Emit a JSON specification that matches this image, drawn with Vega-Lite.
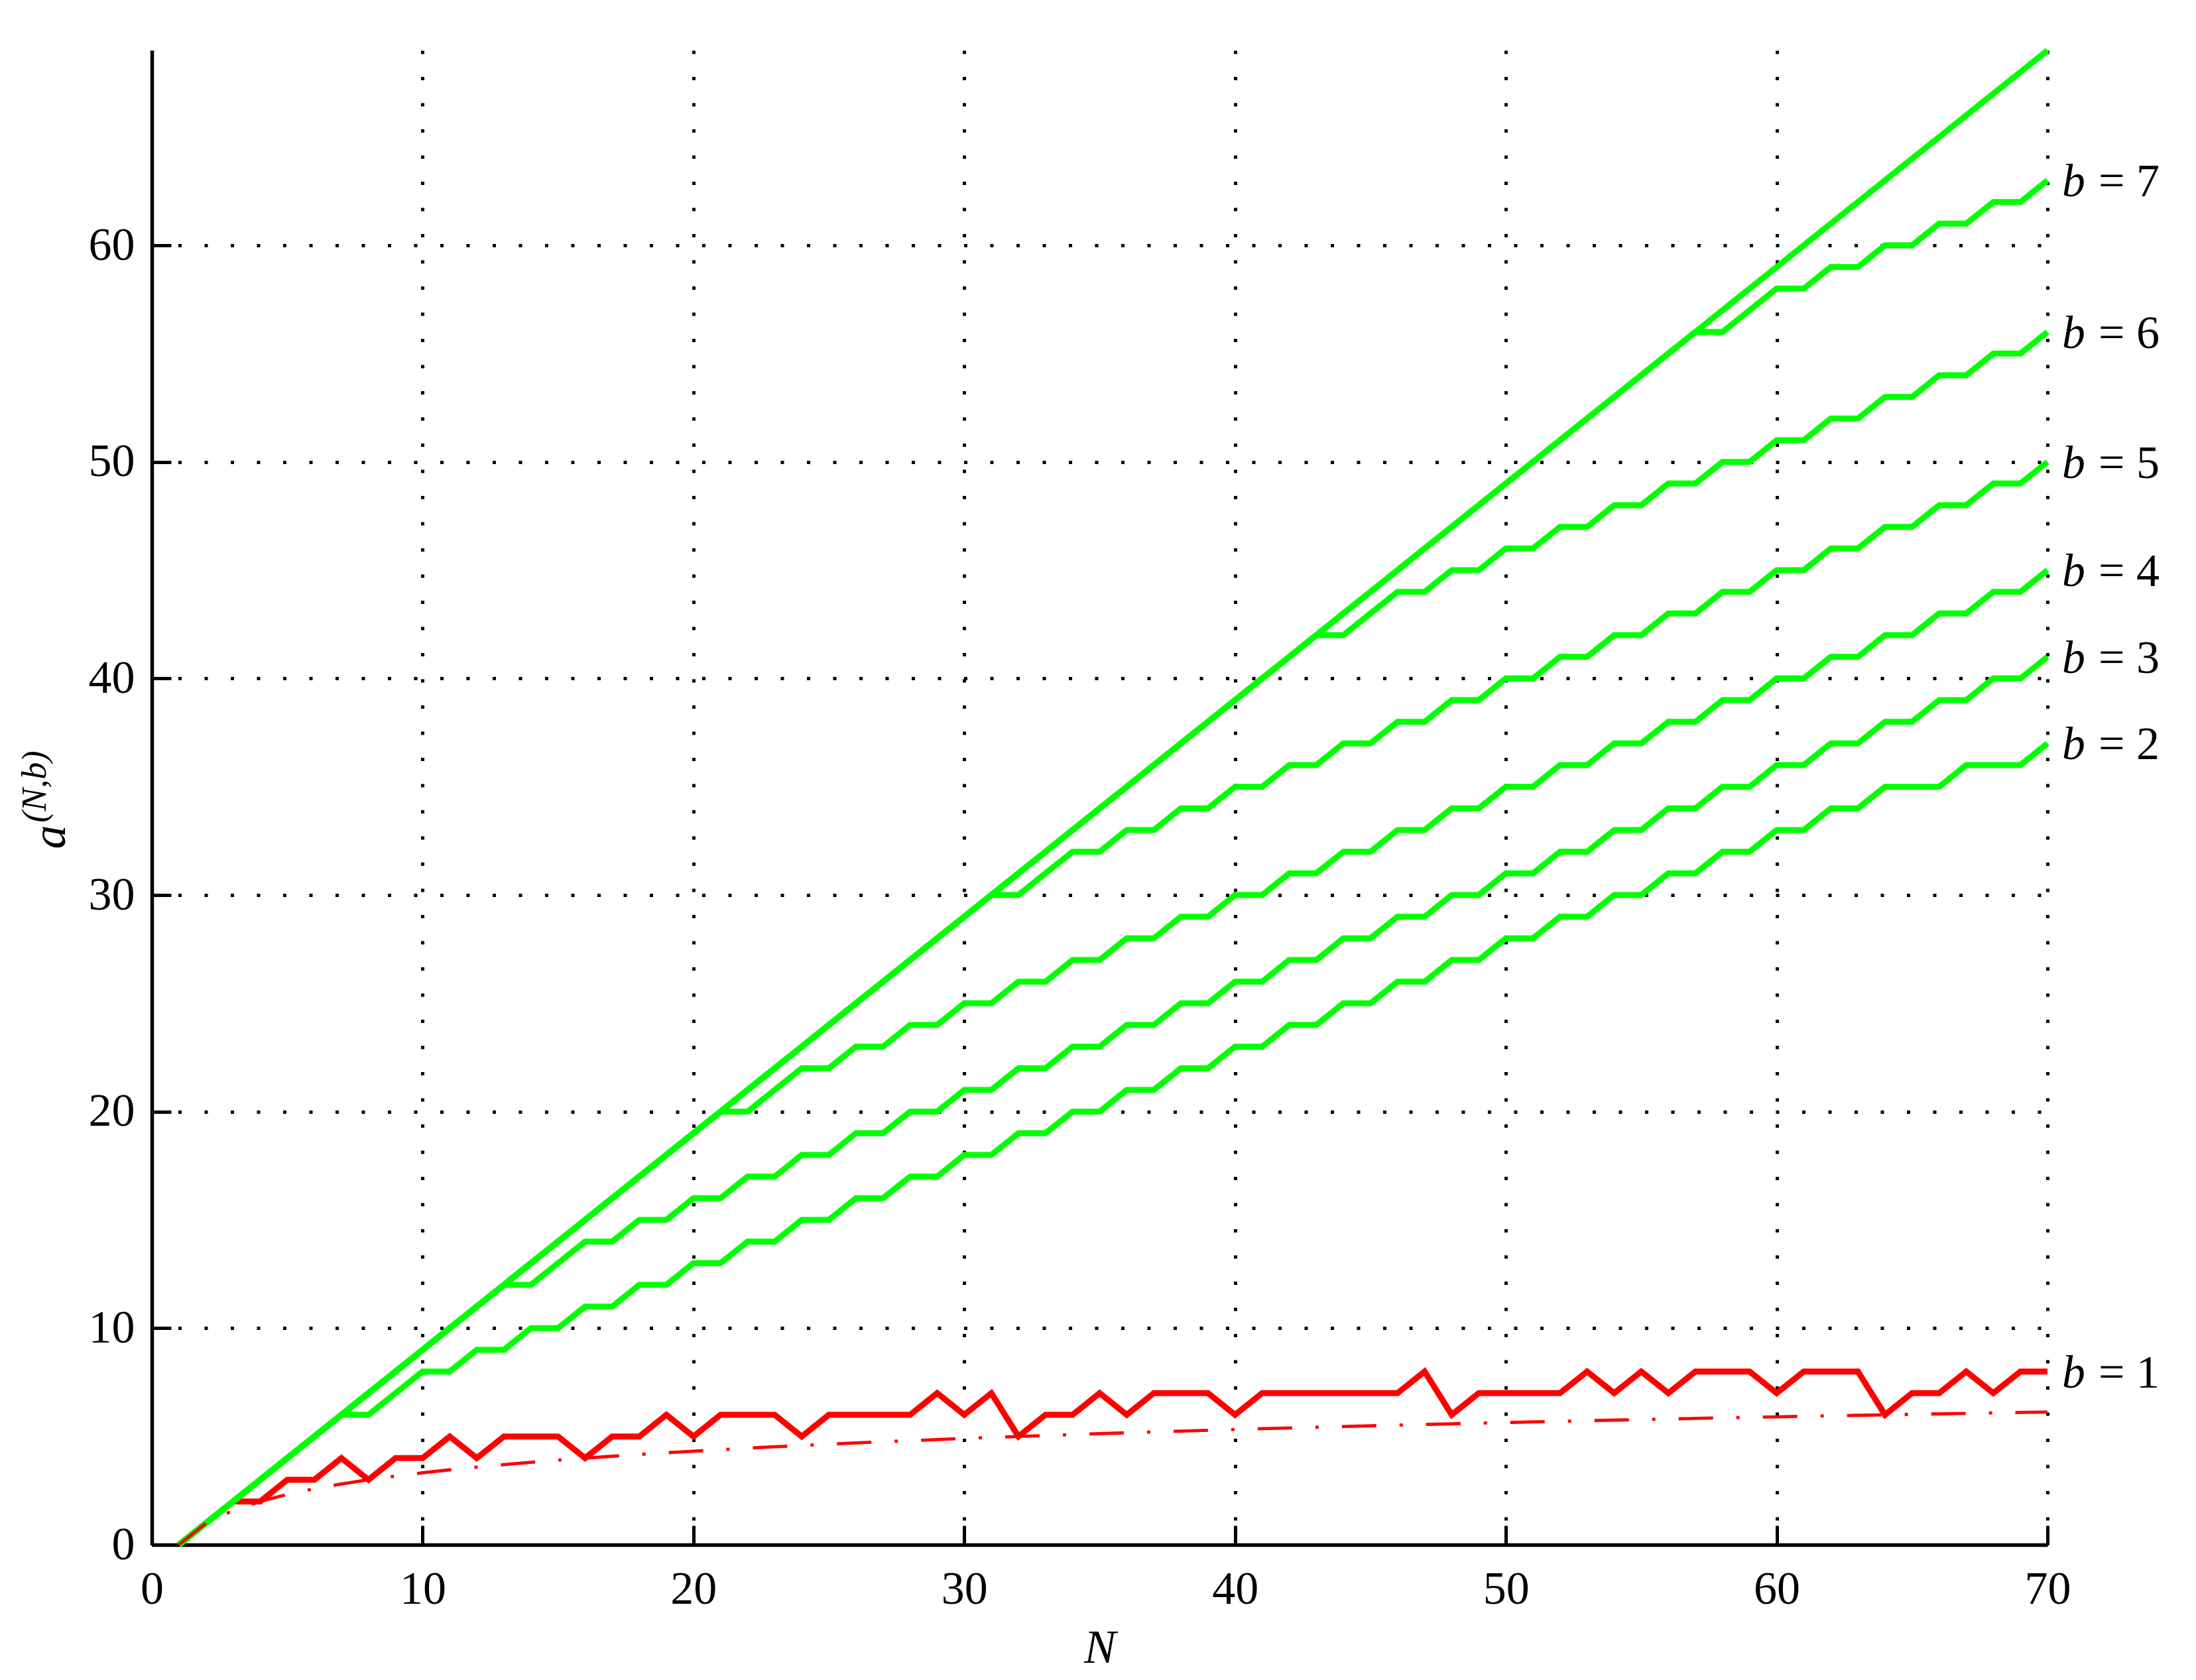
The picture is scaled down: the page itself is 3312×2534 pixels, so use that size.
{
  "$schema": "https://vega.github.io/schema/vega-lite/v6.json",
  "width": 2859,
  "height": 2254,
  "autosize": {"type": "none"},
  "padding": {"left": 229, "top": 76, "right": 224, "bottom": 204},
  "background": "white",
  "config": {"view": {"stroke": null}},
  "resolve": {"axis": {"x": "independent", "y": "independent"}},
  "data": {
    "values": [
      {"N": 1, "t": 0, "b7": 0, "b6": 0, "b5": 0, "b4": 0, "b3": 0, "b2": 0, "b1": 0, "lg": 0},
      {"N": 2, "t": 1, "b7": 1, "b6": 1, "b5": 1, "b4": 1, "b3": 1, "b2": 1, "b1": 1, "lg": 1},
      {"N": 3, "t": 2, "b7": 2, "b6": 2, "b5": 2, "b4": 2, "b3": 2, "b2": 2, "b1": 2, "lg": 1.585},
      {"N": 4, "t": 3, "b7": 3, "b6": 3, "b5": 3, "b4": 3, "b3": 3, "b2": 3, "b1": 2, "lg": 2},
      {"N": 5, "t": 4, "b7": 4, "b6": 4, "b5": 4, "b4": 4, "b3": 4, "b2": 4, "b1": 3, "lg": 2.322},
      {"N": 6, "t": 5, "b7": 5, "b6": 5, "b5": 5, "b4": 5, "b3": 5, "b2": 5, "b1": 3, "lg": 2.585},
      {"N": 7, "t": 6, "b7": 6, "b6": 6, "b5": 6, "b4": 6, "b3": 6, "b2": 6, "b1": 4, "lg": 2.807},
      {"N": 8, "t": 7, "b7": 7, "b6": 7, "b5": 7, "b4": 7, "b3": 7, "b2": 6, "b1": 3, "lg": 3},
      {"N": 9, "t": 8, "b7": 8, "b6": 8, "b5": 8, "b4": 8, "b3": 8, "b2": 7, "b1": 4, "lg": 3.17},
      {"N": 10, "t": 9, "b7": 9, "b6": 9, "b5": 9, "b4": 9, "b3": 9, "b2": 8, "b1": 4, "lg": 3.322},
      {"N": 11, "t": 10, "b7": 10, "b6": 10, "b5": 10, "b4": 10, "b3": 10, "b2": 8, "b1": 5, "lg": 3.459},
      {"N": 12, "t": 11, "b7": 11, "b6": 11, "b5": 11, "b4": 11, "b3": 11, "b2": 9, "b1": 4, "lg": 3.585},
      {"N": 13, "t": 12, "b7": 12, "b6": 12, "b5": 12, "b4": 12, "b3": 12, "b2": 9, "b1": 5, "lg": 3.7},
      {"N": 14, "t": 13, "b7": 13, "b6": 13, "b5": 13, "b4": 13, "b3": 12, "b2": 10, "b1": 5, "lg": 3.807},
      {"N": 15, "t": 14, "b7": 14, "b6": 14, "b5": 14, "b4": 14, "b3": 13, "b2": 10, "b1": 5, "lg": 3.907},
      {"N": 16, "t": 15, "b7": 15, "b6": 15, "b5": 15, "b4": 15, "b3": 14, "b2": 11, "b1": 4, "lg": 4},
      {"N": 17, "t": 16, "b7": 16, "b6": 16, "b5": 16, "b4": 16, "b3": 14, "b2": 11, "b1": 5, "lg": 4.087},
      {"N": 18, "t": 17, "b7": 17, "b6": 17, "b5": 17, "b4": 17, "b3": 15, "b2": 12, "b1": 5, "lg": 4.17},
      {"N": 19, "t": 18, "b7": 18, "b6": 18, "b5": 18, "b4": 18, "b3": 15, "b2": 12, "b1": 6, "lg": 4.248},
      {"N": 20, "t": 19, "b7": 19, "b6": 19, "b5": 19, "b4": 19, "b3": 16, "b2": 13, "b1": 5, "lg": 4.322},
      {"N": 21, "t": 20, "b7": 20, "b6": 20, "b5": 20, "b4": 20, "b3": 16, "b2": 13, "b1": 6, "lg": 4.392},
      {"N": 22, "t": 21, "b7": 21, "b6": 21, "b5": 21, "b4": 20, "b3": 17, "b2": 14, "b1": 6, "lg": 4.459},
      {"N": 23, "t": 22, "b7": 22, "b6": 22, "b5": 22, "b4": 21, "b3": 17, "b2": 14, "b1": 6, "lg": 4.524},
      {"N": 24, "t": 23, "b7": 23, "b6": 23, "b5": 23, "b4": 22, "b3": 18, "b2": 15, "b1": 5, "lg": 4.585},
      {"N": 25, "t": 24, "b7": 24, "b6": 24, "b5": 24, "b4": 22, "b3": 18, "b2": 15, "b1": 6, "lg": 4.644},
      {"N": 26, "t": 25, "b7": 25, "b6": 25, "b5": 25, "b4": 23, "b3": 19, "b2": 16, "b1": 6, "lg": 4.7},
      {"N": 27, "t": 26, "b7": 26, "b6": 26, "b5": 26, "b4": 23, "b3": 19, "b2": 16, "b1": 6, "lg": 4.755},
      {"N": 28, "t": 27, "b7": 27, "b6": 27, "b5": 27, "b4": 24, "b3": 20, "b2": 17, "b1": 6, "lg": 4.807},
      {"N": 29, "t": 28, "b7": 28, "b6": 28, "b5": 28, "b4": 24, "b3": 20, "b2": 17, "b1": 7, "lg": 4.858},
      {"N": 30, "t": 29, "b7": 29, "b6": 29, "b5": 29, "b4": 25, "b3": 21, "b2": 18, "b1": 6, "lg": 4.907},
      {"N": 31, "t": 30, "b7": 30, "b6": 30, "b5": 30, "b4": 25, "b3": 21, "b2": 18, "b1": 7, "lg": 4.954},
      {"N": 32, "t": 31, "b7": 31, "b6": 31, "b5": 30, "b4": 26, "b3": 22, "b2": 19, "b1": 5, "lg": 5},
      {"N": 33, "t": 32, "b7": 32, "b6": 32, "b5": 31, "b4": 26, "b3": 22, "b2": 19, "b1": 6, "lg": 5.044},
      {"N": 34, "t": 33, "b7": 33, "b6": 33, "b5": 32, "b4": 27, "b3": 23, "b2": 20, "b1": 6, "lg": 5.087},
      {"N": 35, "t": 34, "b7": 34, "b6": 34, "b5": 32, "b4": 27, "b3": 23, "b2": 20, "b1": 7, "lg": 5.129},
      {"N": 36, "t": 35, "b7": 35, "b6": 35, "b5": 33, "b4": 28, "b3": 24, "b2": 21, "b1": 6, "lg": 5.17},
      {"N": 37, "t": 36, "b7": 36, "b6": 36, "b5": 33, "b4": 28, "b3": 24, "b2": 21, "b1": 7, "lg": 5.209},
      {"N": 38, "t": 37, "b7": 37, "b6": 37, "b5": 34, "b4": 29, "b3": 25, "b2": 22, "b1": 7, "lg": 5.248},
      {"N": 39, "t": 38, "b7": 38, "b6": 38, "b5": 34, "b4": 29, "b3": 25, "b2": 22, "b1": 7, "lg": 5.285},
      {"N": 40, "t": 39, "b7": 39, "b6": 39, "b5": 35, "b4": 30, "b3": 26, "b2": 23, "b1": 6, "lg": 5.322},
      {"N": 41, "t": 40, "b7": 40, "b6": 40, "b5": 35, "b4": 30, "b3": 26, "b2": 23, "b1": 7, "lg": 5.358},
      {"N": 42, "t": 41, "b7": 41, "b6": 41, "b5": 36, "b4": 31, "b3": 27, "b2": 24, "b1": 7, "lg": 5.392},
      {"N": 43, "t": 42, "b7": 42, "b6": 42, "b5": 36, "b4": 31, "b3": 27, "b2": 24, "b1": 7, "lg": 5.426},
      {"N": 44, "t": 43, "b7": 43, "b6": 42, "b5": 37, "b4": 32, "b3": 28, "b2": 25, "b1": 7, "lg": 5.459},
      {"N": 45, "t": 44, "b7": 44, "b6": 43, "b5": 37, "b4": 32, "b3": 28, "b2": 25, "b1": 7, "lg": 5.492},
      {"N": 46, "t": 45, "b7": 45, "b6": 44, "b5": 38, "b4": 33, "b3": 29, "b2": 26, "b1": 7, "lg": 5.524},
      {"N": 47, "t": 46, "b7": 46, "b6": 44, "b5": 38, "b4": 33, "b3": 29, "b2": 26, "b1": 8, "lg": 5.555},
      {"N": 48, "t": 47, "b7": 47, "b6": 45, "b5": 39, "b4": 34, "b3": 30, "b2": 27, "b1": 6, "lg": 5.585},
      {"N": 49, "t": 48, "b7": 48, "b6": 45, "b5": 39, "b4": 34, "b3": 30, "b2": 27, "b1": 7, "lg": 5.615},
      {"N": 50, "t": 49, "b7": 49, "b6": 46, "b5": 40, "b4": 35, "b3": 31, "b2": 28, "b1": 7, "lg": 5.644},
      {"N": 51, "t": 50, "b7": 50, "b6": 46, "b5": 40, "b4": 35, "b3": 31, "b2": 28, "b1": 7, "lg": 5.672},
      {"N": 52, "t": 51, "b7": 51, "b6": 47, "b5": 41, "b4": 36, "b3": 32, "b2": 29, "b1": 7, "lg": 5.7},
      {"N": 53, "t": 52, "b7": 52, "b6": 47, "b5": 41, "b4": 36, "b3": 32, "b2": 29, "b1": 8, "lg": 5.728},
      {"N": 54, "t": 53, "b7": 53, "b6": 48, "b5": 42, "b4": 37, "b3": 33, "b2": 30, "b1": 7, "lg": 5.755},
      {"N": 55, "t": 54, "b7": 54, "b6": 48, "b5": 42, "b4": 37, "b3": 33, "b2": 30, "b1": 8, "lg": 5.781},
      {"N": 56, "t": 55, "b7": 55, "b6": 49, "b5": 43, "b4": 38, "b3": 34, "b2": 31, "b1": 7, "lg": 5.807},
      {"N": 57, "t": 56, "b7": 56, "b6": 49, "b5": 43, "b4": 38, "b3": 34, "b2": 31, "b1": 8, "lg": 5.833},
      {"N": 58, "t": 57, "b7": 56, "b6": 50, "b5": 44, "b4": 39, "b3": 35, "b2": 32, "b1": 8, "lg": 5.858},
      {"N": 59, "t": 58, "b7": 57, "b6": 50, "b5": 44, "b4": 39, "b3": 35, "b2": 32, "b1": 8, "lg": 5.883},
      {"N": 60, "t": 59, "b7": 58, "b6": 51, "b5": 45, "b4": 40, "b3": 36, "b2": 33, "b1": 7, "lg": 5.907},
      {"N": 61, "t": 60, "b7": 58, "b6": 51, "b5": 45, "b4": 40, "b3": 36, "b2": 33, "b1": 8, "lg": 5.931},
      {"N": 62, "t": 61, "b7": 59, "b6": 52, "b5": 46, "b4": 41, "b3": 37, "b2": 34, "b1": 8, "lg": 5.954},
      {"N": 63, "t": 62, "b7": 59, "b6": 52, "b5": 46, "b4": 41, "b3": 37, "b2": 34, "b1": 8, "lg": 5.977},
      {"N": 64, "t": 63, "b7": 60, "b6": 53, "b5": 47, "b4": 42, "b3": 38, "b2": 35, "b1": 6, "lg": 6},
      {"N": 65, "t": 64, "b7": 60, "b6": 53, "b5": 47, "b4": 42, "b3": 38, "b2": 35, "b1": 7, "lg": 6.022},
      {"N": 66, "t": 65, "b7": 61, "b6": 54, "b5": 48, "b4": 43, "b3": 39, "b2": 35, "b1": 7, "lg": 6.044},
      {"N": 67, "t": 66, "b7": 61, "b6": 54, "b5": 48, "b4": 43, "b3": 39, "b2": 36, "b1": 8, "lg": 6.066},
      {"N": 68, "t": 67, "b7": 62, "b6": 55, "b5": 49, "b4": 44, "b3": 40, "b2": 36, "b1": 7, "lg": 6.087},
      {"N": 69, "t": 68, "b7": 62, "b6": 55, "b5": 49, "b4": 44, "b3": 40, "b2": 36, "b1": 8, "lg": 6.109},
      {"N": 70, "t": 69, "b7": 63, "b6": 56, "b5": 50, "b4": 45, "b3": 41, "b2": 37, "b1": 8, "lg": 6.129}
    ]
  },
  "transform": [
    {"fold": ["t", "b7", "b6", "b5", "b4", "b3", "b2", "b1", "lg"], "as": ["s", "v"]}
  ],
  "layer": [
    {
      "encoding": {
        "x": {
          "field": "N",
          "type": "quantitative",
          "scale": {"domain": [0, 70], "nice": false, "zero": false},
          "axis": {
            "values": [0, 10, 20, 30, 40, 50, 60, 70],
            "title": "N",
            "titleFont": "Liberation Serif",
            "titleFontStyle": "italic",
            "titleFontWeight": "normal",
            "titleFontSize": 72,
            "titleColor": "black",
            "titleX": 1429.5,
            "titleY": 177,
            "titleAlign": "center",
            "titleBaseline": "alphabetic",
            "labelFont": "Liberation Serif",
            "labelFontSize": 70,
            "labelColor": "black",
            "labelFlush": false,
            "labelOverlap": false,
            "labelPadding": 62,
            "tickSize": -29,
            "tickWidth": 5,
            "tickColor": "black",
            "domainColor": "black",
            "domainWidth": 5.5,
            "grid": true,
            "gridColor": "black",
            "gridOpacity": 1,
            "gridWidth": 5,
            "gridDash": [5, 34.5]
          }
        },
        "y": {
          "field": "v",
          "type": "quantitative",
          "scale": {"domain": [0, 69], "nice": false, "zero": false},
          "axis": {
            "values": [0, 10, 20, 30, 40, 50, 60],
            "title": "a",
            "titleFont": "Liberation Serif",
            "titleFontStyle": "italic",
            "titleFontWeight": "normal",
            "titleFontSize": 72,
            "titleColor": "black",
            "titleAngle": -90,
            "titleX": -132,
            "titleY": 1186,
            "titleAlign": "center",
            "titleBaseline": "alphabetic",
            "labelFont": "Liberation Serif",
            "labelFontSize": 70,
            "labelColor": "black",
            "labelFlush": false,
            "labelOverlap": false,
            "labelPadding": 55,
            "tickSize": -29,
            "tickWidth": 5,
            "tickColor": "black",
            "domainColor": "black",
            "domainWidth": 5.5,
            "grid": true,
            "gridColor": "black",
            "gridOpacity": 1,
            "gridWidth": 5,
            "gridDash": [5, 34.5]
          }
        }
      },
      "layer": [
        {
          "transform": [{"filter": "datum.s === 'b1'"}],
          "mark": {"type": "line", "color": "#ff0000", "strokeWidth": 9}
        },
        {
          "transform": [{"filter": "datum.s !== 'b1' && datum.s !== 'lg'"}],
          "mark": {"type": "line", "color": "#00ff00", "strokeWidth": 9},
          "encoding": {"detail": {"field": "s", "type": "nominal"}}
        },
        {
          "transform": [{"filter": "datum.s === 'lg'"}],
          "mark": {"type": "line", "color": "#ff0000", "strokeWidth": 4.8, "strokeDash": [52, 35, 5, 35]}
        },
        {
          "data": {
            "values": [
              {"N": 70, "v": 63, "k": "= 7"},
              {"N": 70, "v": 56, "k": "= 6"},
              {"N": 70, "v": 50, "k": "= 5"},
              {"N": 70, "v": 45, "k": "= 4"},
              {"N": 70, "v": 41, "k": "= 3"},
              {"N": 70, "v": 37, "k": "= 2"},
              {"N": 70, "v": 8, "k": "= 1"}
            ]
          },
          "mark": {"type": "text", "text": "b", "align": "left", "baseline": "alphabetic", "dx": 22, "dy": 24, "font": "Liberation Serif", "fontStyle": "italic", "fontSize": 70, "color": "black"}
        },
        {
          "data": {
            "values": [
              {"N": 70, "v": 63, "k": "= 7"},
              {"N": 70, "v": 56, "k": "= 6"},
              {"N": 70, "v": 50, "k": "= 5"},
              {"N": 70, "v": 45, "k": "= 4"},
              {"N": 70, "v": 41, "k": "= 3"},
              {"N": 70, "v": 37, "k": "= 2"},
              {"N": 70, "v": 8, "k": "= 1"}
            ]
          },
          "mark": {"type": "text", "align": "left", "baseline": "alphabetic", "dx": 77, "dy": 24, "font": "Liberation Serif", "fontSize": 70, "color": "black"},
          "encoding": {"text": {"field": "k"}}
        }
      ]
    },
    {
      "data": {"values": [{"sup": "(N,b)"}]},
      "mark": {"type": "text", "angle": -90, "align": "center", "baseline": "alphabetic", "font": "Liberation Serif", "fontStyle": "italic", "fontSize": 52, "color": "black"},
      "encoding": {
        "x": {"datum": -3.92, "type": "quantitative", "scale": {"domain": [0, 70], "nice": false, "zero": false}, "axis": null},
        "y": {"datum": 35, "type": "quantitative", "scale": {"domain": [0, 69], "nice": false, "zero": false}, "axis": null},
        "text": {"field": "sup"}
      }
    }
  ]
}
